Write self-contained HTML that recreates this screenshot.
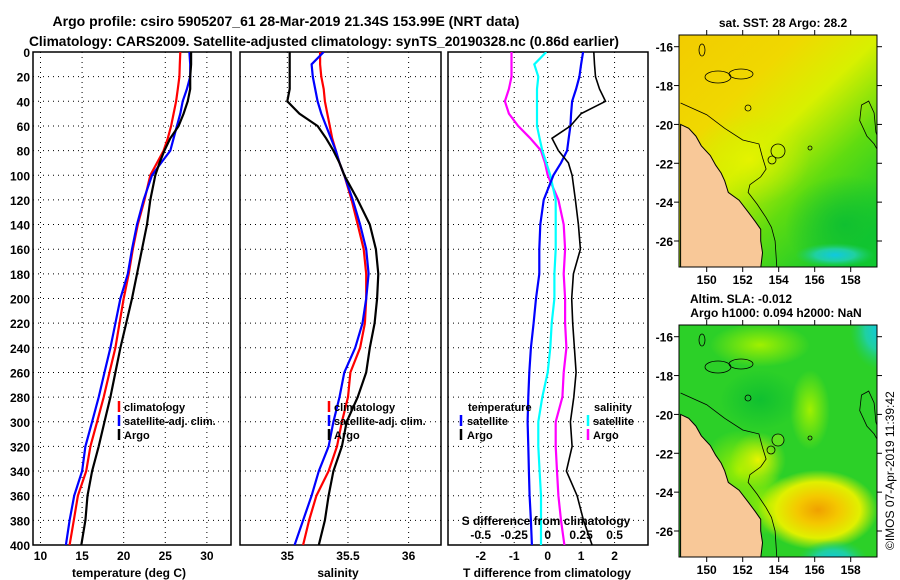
<!DOCTYPE html>
<html><head><meta charset="utf-8">
<style>
html,body{margin:0;padding:0;background:#fff;}
svg{display:block;font-family:"Liberation Sans",Arial,sans-serif;font-weight:bold;}
</style></head>
<body>
<svg id="chart" width="900" height="580" viewBox="0 0 900 580" xmlns="http://www.w3.org/2000/svg">
<defs>
  <clipPath id="cp1"><rect x="33" y="52" width="198" height="493"/></clipPath>
  <clipPath id="cp2"><rect x="240" y="52" width="201" height="493"/></clipPath>
  <clipPath id="cp3"><rect x="448" y="52" width="200" height="493"/></clipPath>
  <clipPath id="cpm1"><rect x="679" y="35" width="198" height="232"/></clipPath>
  <clipPath id="cpm2"><rect x="679" y="325" width="198" height="232"/></clipPath>
  <linearGradient id="sstg" x1="0" y1="0" x2="0.8" y2="1">
    <stop offset="0" stop-color="#f2cc00"/><stop offset="0.3" stop-color="#f0d800"/>
    <stop offset="0.5" stop-color="#d8f000"/><stop offset="0.72" stop-color="#60dc10"/>
    <stop offset="1" stop-color="#10c830"/>
  </linearGradient>
  <radialGradient id="slaOr"><stop offset="0" stop-color="#f0a000"/><stop offset="0.35" stop-color="#f4c800"/><stop offset="0.7" stop-color="#e0f000"/><stop offset="1" stop-color="#e0f000" stop-opacity="0"/></radialGradient>
  <radialGradient id="cyan"><stop offset="0" stop-color="#10c8e0"/><stop offset="0.5" stop-color="#20d0a0"/><stop offset="1" stop-color="#20d060" stop-opacity="0"/></radialGradient>
  <radialGradient id="lgt"><stop offset="0" stop-color="#a0f000"/><stop offset="1" stop-color="#a0f000" stop-opacity="0"/></radialGradient>
  <radialGradient id="yel"><stop offset="0" stop-color="#e8f400"/><stop offset="1" stop-color="#c8f000" stop-opacity="0"/></radialGradient>
  <radialGradient id="dgr"><stop offset="0" stop-color="#10c030"/><stop offset="1" stop-color="#10c030" stop-opacity="0"/></radialGradient>
</defs>

<text x="286" y="26" font-size="14" text-anchor="middle">Argo profile: csiro 5905207_61 28-Mar-2019 21.34S 153.99E (NRT data)</text>
<text x="324" y="46" font-size="14" text-anchor="middle" textLength="590" lengthAdjust="spacingAndGlyphs">Climatology: CARS2009. Satellite-adjusted climatology: synTS_20190328.nc (0.86d earlier)</text>

<g id="p1"></g>
<g id="p2"></g>
<g id="p3"></g>

<g>
  <text x="783" y="27" font-size="12" text-anchor="middle">sat. SST: 28 Argo: 28.2</text>
  <g clip-path="url(#cpm1)">
    <rect x="679" y="35" width="198" height="232" fill="url(#sstg)"/>
    <ellipse cx="750" cy="160" rx="60" ry="45" fill="url(#yel)" opacity="0.8"/>
    <ellipse cx="845" cy="225" rx="60" ry="50" fill="url(#dgr)"/>
    <ellipse cx="835" cy="255" rx="40" ry="12" fill="url(#cyan)"/>
    <polygon id="land1" fill="#f8c898" stroke="#000" stroke-width="1"/>
    <polyline id="iso1" fill="none" stroke="#000" stroke-width="0.8"/>
    <polyline id="iso1b" fill="none" stroke="#000" stroke-width="0.8"/>
    <g fill="none" stroke="#000" stroke-width="0.8">
      <ellipse cx="718" cy="77" rx="13" ry="6"/><ellipse cx="741" cy="74" rx="12" ry="5"/>
      <ellipse cx="702" cy="50" rx="3" ry="6"/><circle cx="748" cy="108" r="3"/>
      <circle cx="778" cy="151" r="7"/><circle cx="772" cy="160" r="4"/><circle cx="810" cy="148" r="2"/>
    </g>
  </g>
  <rect x="679" y="35" width="198" height="232" fill="none" stroke="#000" stroke-width="1"/>
  <g id="m1axes"></g>
</g>

<g>
  <text x="741" y="303" font-size="12" text-anchor="middle">Altim. SLA: -0.012</text>
  <text x="776" y="317" font-size="12" text-anchor="middle">Argo h1000: 0.094 h2000: NaN</text>
  <g clip-path="url(#cpm2)">
    <rect x="679" y="325" width="198" height="232" fill="#2cd028"/>
    <ellipse cx="760" cy="345" rx="50" ry="22" fill="url(#lgt)"/>
    <ellipse cx="810" cy="410" rx="20" ry="40" fill="url(#lgt)"/>
    <ellipse cx="740" cy="470" rx="40" ry="40" fill="url(#lgt)"/>
    <ellipse cx="770" cy="505" rx="40" ry="30" fill="url(#lgt)"/>
    <ellipse cx="760" cy="400" rx="40" ry="30" fill="url(#dgr)"/>
    <ellipse cx="818" cy="510" rx="60" ry="40" fill="url(#slaOr)"/>
    <ellipse cx="758" cy="460" rx="28" ry="28" fill="url(#yel)"/>
    <ellipse cx="880" cy="330" rx="30" ry="40" fill="url(#cyan)"/>
    <ellipse cx="833" cy="560" rx="35" ry="20" fill="url(#cyan)"/>
    <polygon id="land2" fill="#f8c898" stroke="#000" stroke-width="1"/>
    <polyline id="iso2" fill="none" stroke="#000" stroke-width="0.8"/>
    <polyline id="iso2b" fill="none" stroke="#000" stroke-width="0.8"/>
    <g fill="none" stroke="#000" stroke-width="0.8">
      <ellipse cx="718" cy="367" rx="13" ry="6"/><ellipse cx="741" cy="364" rx="12" ry="5"/>
      <ellipse cx="702" cy="340" rx="3" ry="6"/><circle cx="748" cy="398" r="3"/>
      <circle cx="810" cy="438" r="2"/>
    </g>
    <circle cx="778" cy="440" r="6" fill="#60e020" stroke="#000" stroke-width="0.8"/>
    <circle cx="771" cy="450" r="4" fill="none" stroke="#000" stroke-width="0.8"/>
  </g>
  <rect x="679" y="325" width="198" height="232" fill="none" stroke="#000" stroke-width="1"/>
  <g id="m2axes"></g>
</g>
<text transform="translate(894,550) rotate(-90)" font-size="12" font-weight="normal">©IMOS 07-Apr-2019 11:39:42</text>
</svg>

<script>
// ---- data ----
const depths = [0,10,20,30,40,50,60,70,80,90,100,120,140,160,180,200,220,240,260,280,300,320,340,360,380,400];
const tempClim = [26.8,26.75,26.7,26.5,26.3,26.0,25.7,25.3,24.8,24.0,23.2,22.5,21.7,21.1,20.6,20.0,19.5,19.0,18.3,17.6,16.8,16.0,15.5,14.5,14.0,13.5];
const tempSat  = [27.9,28.0,28.0,27.6,27.1,26.8,26.4,26.0,25.6,24.5,23.4,22.4,21.6,21.0,20.5,19.6,19.0,18.4,17.7,17.0,16.2,15.4,15.0,14.05,13.5,13.05];
const tempArgo = [28.1,28.1,28.0,28.0,27.7,27.2,26.6,25.6,24.9,24.3,23.8,23.2,22.8,22.2,21.6,21.0,20.3,19.6,19.0,18.4,17.7,17.0,16.2,15.65,15.4,14.9];
const salClim = [35.27,35.27,35.28,35.3,35.31,35.33,35.35,35.37,35.40,35.43,35.47,35.53,35.58,35.63,35.65,35.65,35.64,35.6,35.52,35.5,35.45,35.41,35.34,35.24,35.18,35.13];
const salSat  = [35.3,35.2,35.21,35.23,35.25,35.28,35.32,35.36,35.4,35.43,35.47,35.54,35.6,35.65,35.67,35.65,35.62,35.56,35.47,35.43,35.38,35.34,35.26,35.2,35.13,35.06];
const salArgo = [35.02,35.02,35.02,35.02,35.0,35.1,35.25,35.32,35.38,35.43,35.47,35.58,35.68,35.73,35.75,35.74,35.72,35.68,35.65,35.58,35.49,35.45,35.38,35.34,35.31,35.26];
const dTSat  = [1.06,1.0,0.95,0.85,0.73,0.7,0.68,0.63,0.58,0.4,0.17,-0.12,-0.22,-0.25,-0.25,-0.35,-0.42,-0.5,-0.55,-0.58,-0.6,-0.58,-0.56,-0.54,-0.5,-0.47];
const dTArgo = [1.38,1.4,1.43,1.55,1.73,1.0,0.68,0.13,0.32,0.62,0.73,0.83,0.92,0.98,0.77,0.72,0.75,0.8,0.85,0.78,0.68,0.73,0.56,0.88,1.07,1.33];
const dSSat  = [-0.01,-0.1,-0.07,-0.08,-0.08,-0.08,-0.08,-0.06,-0.04,-0.01,0.02,0.06,0.06,0.06,0.05,0.05,0.03,0.02,0.0,-0.04,-0.07,-0.07,-0.06,-0.05,-0.05,-0.05];
const dSArgo = [-0.27,-0.27,-0.27,-0.29,-0.32,-0.29,-0.22,-0.13,-0.05,-0.02,0.0,0.08,0.12,0.13,0.12,0.13,0.13,0.14,0.12,0.11,0.06,0.06,0.07,0.08,0.1,0.125];
const depthTicks = [0,20,40,60,80,100,120,140,160,180,200,220,240,260,280,300,320,340,360,380,400];
const tempTicks = [10,15,20,25,30];
const salTicks = [35,35.5,36];
const salTickLabels = ["35","35.5","36"];
const dTTicks = [-2,-1,0,1,2];
const dSTicks = [-0.5,-0.25,0,0.25,0.5];
const dSTickLabels = ["-0.5","-0.25","0","0.25","0.5"];
const latTicks = [-16,-18,-20,-22,-24,-26];
const lonTicks = [150,152,154,156,158];
const coast = [[148.55,-20.0],[149,-20.2],[149.4,-20.6],[149.7,-21.1],[150.2,-21.6],[150.5,-22.1],[150.8,-22.5],[151.0,-22.9],[151.2,-23.5],[151.8,-23.9],[152.3,-24.5],[152.7,-25.0],[153.0,-25.4],[153.0,-26.0],[153.1,-26.6],[153.0,-27.4],[148.55,-27.4]];
const isobath = [[148.55,-18.9],[150,-19.5],[151,-20.2],[152,-20.8],[152.9,-21.0],[153.1,-21.7],[153.3,-22.3],[153.0,-22.7],[152.4,-23.1],[152.3,-23.5],[152.8,-24.1],[153.3,-24.8],[153.6,-25.3],[153.8,-26.0],[153.9,-27.4]];
const isobath2 = [[159.6,-21.5],[159.3,-21.0],[158.9,-20.6],[158.5,-19.8],[158.6,-19.0],[159.0,-18.8],[159.3,-19.4],[159.4,-20.4],[159.6,-20.9]];

// ---- helpers ----
const NS = "http://www.w3.org/2000/svg";
const svg = document.getElementById('chart');
function mk(tag, attrs, parent){ const e=document.createElementNS(NS,tag); for(const k in attrs) e.setAttribute(k,attrs[k]); (parent||svg).appendChild(e); return e; }
const Y0=52, Y1=545;
const yD = d => Y0 + (d/400)*(Y1-Y0);
function panel(g, x0, x1, vmin, vmax){ return v => x0 + (v-vmin)/(vmax-vmin)*(x1-x0); }
function gridAndFrame(g, x0, x1, sx, vticks){
  vticks.forEach(v=>{ const l=mk('line',{x1:sx(v),x2:sx(v),y1:Y0,y2:Y1,stroke:'#000','stroke-width':1,'stroke-dasharray':'1,4'},g);
    
     });
  depthTicks.forEach(d=>{ if(d===0||d===400) return; const l=mk('line',{x1:x0,x2:x1,y1:yD(d),y2:yD(d),stroke:'#000','stroke-width':1,'stroke-dasharray':'1,4'},g);
    
     });
  const r=mk('rect',{x:x0,y:Y0,width:x1-x0,height:Y1-Y0,fill:'none',stroke:'#000','stroke-width':1.5},g);
  
  
}
function line(g, vals, sx, color, name, w){
  const pts = vals.map((v,i)=>sx(v).toFixed(1)+','+yD(depths[i]).toFixed(1)).join(' ');
  const p = mk('polyline',{points:pts,fill:'none',stroke:color,'stroke-width':w||2.2},g);
  
  
}
function txt(g, x, y, s, size, anchor, name){
  const t = mk('text',{x:x,y:y,'font-size':size,'text-anchor':anchor||'middle'},g);
  t.textContent = s;
  
  
  return t;
}
function legendMark(g, x, y, color){
  const l = mk('line',{x1:x,x2:x,y1:y-10,y2:y+1,stroke:color,'stroke-width':2.5},g);
  
  
}

// ---- panel 1 ----
const g1=document.getElementById('p1');
const sx1 = panel(g1, 33, 231, 9.1, 32.9);
gridAndFrame(g1, 33, 231, sx1, tempTicks);
const c1=mk('g',{'clip-path':'url(#cp1)'},g1);
line(c1,tempClim,sx1,'#f00','temp-climatology-line');
line(c1,tempSat,sx1,'#00f','temp-satellite-line');
line(c1,tempArgo,sx1,'#000','temp-argo-line');
depthTicks.forEach(d=>txt(g1,30,yD(d)+5,String(d),12,'end','depth-tick-label'));
tempTicks.forEach(v=>txt(g1,sx1(v),560,String(v),12,'middle','temp-tick-label'));
txt(g1,129,577,'temperature (deg C)',12,'middle','temp-axis-title');
legendMark(g1,119,411,'#f00'); txt(g1,124,411,'climatology',11,'start','legend-climatology');
legendMark(g1,119,425,'#00f'); txt(g1,124,425,'satellite-adj. clim.',11,'start','legend-satellite');
legendMark(g1,119,439,'#000'); txt(g1,124,439,'Argo',11,'start','legend-argo');

// ---- panel 2 ----
const g2=document.getElementById('p2');
const sx2 = panel(g2, 240, 441, 34.61, 36.267);
gridAndFrame(g2, 240, 441, sx2, salTicks);
const c2=mk('g',{'clip-path':'url(#cp2)'},g2);
line(c2,salClim,sx2,'#f00','sal-climatology-line');
line(c2,salSat,sx2,'#00f','sal-satellite-line');
line(c2,salArgo,sx2,'#000','sal-argo-line');
salTicks.forEach((v,i)=>txt(g2,sx2(v),560,salTickLabels[i],12,'middle','sal-tick-label'));
txt(g2,338,577,'salinity',12,'middle','sal-axis-title');
legendMark(g2,329,411,'#f00'); txt(g2,334,411,'climatology',11,'start','legend-climatology');
legendMark(g2,329,425,'#00f'); txt(g2,334,425,'satellite-adj. clim.',11,'start','legend-satellite');
legendMark(g2,329,439,'#000'); txt(g2,334,439,'Argo',11,'start','legend-argo');

// ---- panel 3 ----
const g3=document.getElementById('p3');
const sxT = panel(g3, 448, 648, -2.98, 3.0);
const sxS = v => sxT(v*4);
gridAndFrame(g3, 448, 648, sxT, dTTicks);
const c3=mk('g',{'clip-path':'url(#cp3)'},g3);
line(c3,dSArgo,sxS,'#f0f','sdiff-argo-line');
line(c3,dSSat,sxS,'#0ff','sdiff-satellite-line');
line(c3,dTSat,sxT,'#00f','tdiff-satellite-line');
line(c3,dTArgo,sxT,'#000','tdiff-argo-line',1.6);
dTTicks.forEach(v=>txt(g3,sxT(v),560,String(v),12,'middle','tdiff-tick-label'));
txt(g3,547,577,'T difference from climatology',12,'middle','tdiff-axis-title');
txt(g3,546,525,'S difference from climatology',12,'middle','sdiff-axis-title');
dSTicks.forEach((v,i)=>txt(g3,sxS(v),539,dSTickLabels[i],12,'middle','sdiff-tick-label'));
txt(g3,468,411,'temperature',11,'start','legend-temperature-header');
legendMark(g3,461,425,'#00f'); txt(g3,467,425,'satellite',11,'start','legend-t-satellite');
legendMark(g3,461,439,'#000'); txt(g3,467,439,'Argo',11,'start','legend-t-argo');
txt(g3,594,411,'salinity',11,'start','legend-salinity-header');
legendMark(g3,588,425,'#0ff'); txt(g3,593,425,'satellite',11,'start','legend-s-satellite');
legendMark(g3,588,439,'#f0f'); txt(g3,593,439,'Argo',11,'start','legend-s-argo');

// ---- maps ----
const mx = lon => 706.7 + (lon-150)*18;
function mapAxes(id, top, bottom, lat16){
  const g=document.getElementById(id);
  const my = lat => lat16 + (-lat-16)*19.43;
  latTicks.forEach(l=>{ mk('line',{x1:674,x2:679,y1:my(l),y2:my(l),stroke:'#000'},g); txt(g,673,my(l)+5,String(l),12,'end','lat-tick-label'); });
  latTicks.forEach(l=>{ mk('line',{x1:877,x2:882,y1:my(l),y2:my(l),stroke:'#000'},g); });
  lonTicks.forEach(l=>{ mk('line',{x1:mx(l),x2:mx(l),y1:bottom,y2:bottom+5,stroke:'#000'},g); mk('line',{x1:mx(l),x2:mx(l),y1:top-5,y2:top,stroke:'#000'},g); txt(g,mx(l),bottom+17,String(l),12,'middle','lon-tick-label'); });
  return my;
}
const my1 = mapAxes('m1axes',35,267,46.7);
const my2 = mapAxes('m2axes',325,557,336.7);
function ptsOf(arr,my){ return arr.map(p=>mx(p[0]).toFixed(1)+','+my(p[1]).toFixed(1)).join(' '); }
document.getElementById('land1').setAttribute('points',ptsOf(coast,my1));
document.getElementById('land2').setAttribute('points',ptsOf(coast,my2));
document.getElementById('iso1').setAttribute('points',ptsOf(isobath,my1));
document.getElementById('iso2').setAttribute('points',ptsOf(isobath,my2));
document.getElementById('iso1b').setAttribute('points',ptsOf(isobath2,my1));
document.getElementById('iso2b').setAttribute('points',ptsOf(isobath2,my2));
</script>
</body></html>
